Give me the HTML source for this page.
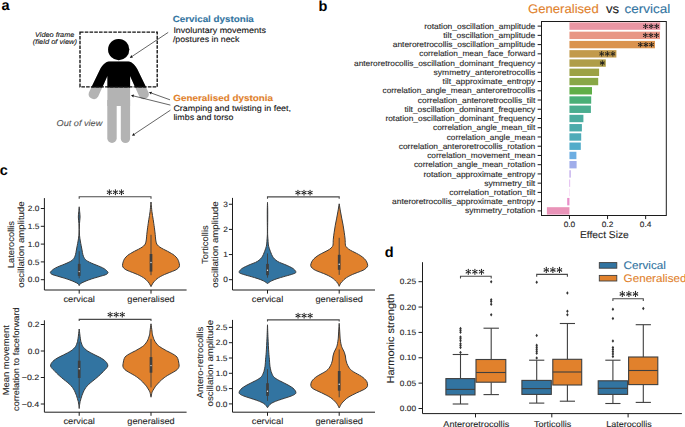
<!DOCTYPE html>
<html><head><meta charset="utf-8"><style>
html,body{margin:0;padding:0;background:#fff;}
svg{display:block;}
text{font-family:"Liberation Sans", sans-serif;text-rendering:geometricPrecision;}
</style></head><body>
<svg width="685" height="427" viewBox="0 0 685 427">
<rect x="0" y="0" width="685" height="427" fill="#fff"/>
<text x="1.6" y="10.4" font-size="14.5" font-weight="bold" fill="#000">a</text>
<text x="318.6" y="10.6" font-size="14.5" font-weight="bold" fill="#000">b</text>
<text x="-0.3" y="175.2" font-size="14.5" font-weight="bold" fill="#000">c</text>
<text x="384.8" y="257.1" font-size="14.5" font-weight="bold" fill="#000">d</text>
<defs><clipPath id="above"><rect x="0" y="0" width="300" height="87.5"/></clipPath></defs>
<g><circle cx="118.7" cy="49.6" r="10.6" fill="#b3b3b3"/><path d="M109 61.4H128.5C132 61.4 136 66.2 137.26 68.9L148.6 92.4A5.15 5.15 0 0 1 139.3 96.6L130.1 76.1V106H107.4V76.1L98.2 96.6A5.15 5.15 0 0 1 88.9 92.4L100.24 68.9C101.5 66.2 105.5 61.4 109 61.4Z" fill="#b3b3b3"/><path d="M107.3 100V138.3A4.7 4.7 0 0 0 116.7 138.3V100Z" fill="#b3b3b3"/><path d="M120.8 100V138.4A4.65 4.65 0 0 0 130.1 138.4V100Z" fill="#b3b3b3"/></g>
<g clip-path="url(#above)"><circle cx="118.7" cy="49.6" r="10.6" fill="#000"/><path d="M109 61.4H128.5C132 61.4 136 66.2 137.26 68.9L148.6 92.4A5.15 5.15 0 0 1 139.3 96.6L130.1 76.1V106H107.4V76.1L98.2 96.6A5.15 5.15 0 0 1 88.9 92.4L100.24 68.9C101.5 66.2 105.5 61.4 109 61.4Z" fill="#000"/><path d="M107.3 100V138.3A4.7 4.7 0 0 0 116.7 138.3V100Z" fill="#000"/><path d="M120.8 100V138.4A4.65 4.65 0 0 0 130.1 138.4V100Z" fill="#000"/></g>
<rect x="80" y="32.1" width="77.2" height="54.8" fill="none" stroke="#111" stroke-width="1.35" stroke-dasharray="3.6 1.15"/>
<text x="35.00" y="36.70" font-size="6.84" textLength="39.39" lengthAdjust="spacingAndGlyphs" font-style="italic" fill="#111" stroke="#111" stroke-width="0.1">Video frame</text>
<text x="32.80" y="44.30" font-size="6.84" textLength="44.22" lengthAdjust="spacingAndGlyphs" font-style="italic" fill="#111" stroke="#111" stroke-width="0.1">(field of view)</text>
<text x="56.60" y="125.60" font-size="8.48" textLength="45.72" lengthAdjust="spacingAndGlyphs" font-style="italic" fill="#555" stroke="#555" stroke-width="0.1">Out of view</text>
<text x="172.70" y="22.40" font-size="8.85" textLength="81.13" lengthAdjust="spacingAndGlyphs" font-weight="bold" fill="#3274a1" stroke="#3274a1" stroke-width="0.1">Cervical dystonia</text>
<text x="173.40" y="32.70" font-size="8.21" textLength="92.48" lengthAdjust="spacingAndGlyphs" fill="#111" stroke="#111" stroke-width="0.1">Involuntary movements</text>
<text x="172.90" y="41.90" font-size="8.21" textLength="66.50" lengthAdjust="spacingAndGlyphs" fill="#111" stroke="#111" stroke-width="0.1">/postures in neck</text>
<text x="173.30" y="100.50" font-size="8.85" textLength="99.68" lengthAdjust="spacingAndGlyphs" font-weight="bold" fill="#e1812c" stroke="#e1812c" stroke-width="0.1">Generalised dystonia</text>
<text x="173.40" y="110.80" font-size="8.21" textLength="117.66" lengthAdjust="spacingAndGlyphs" fill="#111" stroke="#111" stroke-width="0.1">Cramping and twisting in feet,</text>
<text x="173.40" y="120.00" font-size="8.21" textLength="60.07" lengthAdjust="spacingAndGlyphs" fill="#111" stroke="#111" stroke-width="0.1">limbs and torso</text>
<line x1="168.20" y1="32.40" x2="132.13" y2="56.35" stroke="#111" stroke-width="0.65" />
<path d="M129.80 57.90L131.30 55.10L132.96 57.60Z" fill="#111"/>
<line x1="170.00" y1="99.80" x2="151.53" y2="93.15" stroke="#111" stroke-width="0.65" />
<path d="M148.90 92.20L152.04 91.74L151.03 94.56Z" fill="#111"/>
<line x1="170.40" y1="105.10" x2="133.72" y2="95.98" stroke="#111" stroke-width="0.65" />
<path d="M131.00 95.30L134.08 94.52L133.36 97.43Z" fill="#111"/>
<line x1="170.40" y1="110.20" x2="134.33" y2="134.15" stroke="#111" stroke-width="0.65" />
<path d="M132.00 135.70L133.50 132.90L135.16 135.40Z" fill="#111"/>
<rect x="569.45" y="22.42" width="90.75" height="7.39" fill="#ea96a3" />
<line x1="537.60" y1="26.12" x2="541.50" y2="26.12" stroke="#1c1c1c" stroke-width="1.0" />
<text x="535.30" y="28.72" font-size="7.84" textLength="111.14" lengthAdjust="spacingAndGlyphs" text-anchor="end" fill="#262626" stroke="#262626" stroke-width="0.1">rotation_oscillation_amplitude</text>
<rect x="569.45" y="31.66" width="90.55" height="7.39" fill="#e89685" />
<line x1="537.60" y1="35.36" x2="541.50" y2="35.36" stroke="#1c1c1c" stroke-width="1.0" />
<text x="535.30" y="37.96" font-size="7.84" textLength="92.04" lengthAdjust="spacingAndGlyphs" text-anchor="end" fill="#262626" stroke="#262626" stroke-width="0.1">tilt_oscillation_amplitude</text>
<rect x="569.45" y="40.90" width="85.55" height="7.39" fill="#da934e" />
<line x1="537.60" y1="44.60" x2="541.50" y2="44.60" stroke="#1c1c1c" stroke-width="1.0" />
<text x="535.30" y="47.20" font-size="7.84" textLength="142.57" lengthAdjust="spacingAndGlyphs" text-anchor="end" fill="#262626" stroke="#262626" stroke-width="0.1">anteroretrocollis_oscillation_amplitude</text>
<rect x="569.45" y="50.14" width="46.95" height="7.39" fill="#c29a4b" />
<line x1="537.60" y1="53.83" x2="541.50" y2="53.83" stroke="#1c1c1c" stroke-width="1.0" />
<text x="535.30" y="56.43" font-size="7.84" textLength="115.93" lengthAdjust="spacingAndGlyphs" text-anchor="end" fill="#262626" stroke="#262626" stroke-width="0.1">correlation_mean_face_forward</text>
<rect x="569.45" y="59.38" width="36.35" height="7.39" fill="#af9d48" />
<line x1="537.60" y1="63.07" x2="541.50" y2="63.07" stroke="#1c1c1c" stroke-width="1.0" />
<text x="535.30" y="65.67" font-size="7.84" textLength="181.30" lengthAdjust="spacingAndGlyphs" text-anchor="end" fill="#262626" stroke="#262626" stroke-width="0.1">anteroretrocollis_oscillation_dominant_frequency</text>
<rect x="569.45" y="68.61" width="29.65" height="7.39" fill="#9ca145" />
<line x1="537.60" y1="72.31" x2="541.50" y2="72.31" stroke="#1c1c1c" stroke-width="1.0" />
<text x="535.30" y="74.91" font-size="7.84" textLength="101.67" lengthAdjust="spacingAndGlyphs" text-anchor="end" fill="#262626" stroke="#262626" stroke-width="0.1">symmetry_anteroretrocollis</text>
<rect x="569.45" y="77.85" width="28.75" height="7.39" fill="#88a746" />
<line x1="537.60" y1="81.55" x2="541.50" y2="81.55" stroke="#1c1c1c" stroke-width="1.0" />
<text x="535.30" y="84.15" font-size="7.84" textLength="92.68" lengthAdjust="spacingAndGlyphs" text-anchor="end" fill="#262626" stroke="#262626" stroke-width="0.1">tilt_approximate_entropy</text>
<rect x="569.45" y="87.09" width="22.55" height="7.39" fill="#60ae47" />
<line x1="537.60" y1="90.79" x2="541.50" y2="90.79" stroke="#1c1c1c" stroke-width="1.0" />
<text x="535.30" y="93.39" font-size="7.84" textLength="152.77" lengthAdjust="spacingAndGlyphs" text-anchor="end" fill="#262626" stroke="#262626" stroke-width="0.1">correlation_angle_mean_anteroretrocollis</text>
<rect x="569.45" y="96.33" width="21.75" height="7.39" fill="#49af77" />
<line x1="537.60" y1="100.02" x2="541.50" y2="100.02" stroke="#1c1c1c" stroke-width="1.0" />
<text x="535.30" y="102.62" font-size="7.84" textLength="117.47" lengthAdjust="spacingAndGlyphs" text-anchor="end" fill="#262626" stroke="#262626" stroke-width="0.1">correlation_anteroretrocollis_tilt</text>
<rect x="569.45" y="105.57" width="21.45" height="7.39" fill="#4aad8f" />
<line x1="537.60" y1="109.26" x2="541.50" y2="109.26" stroke="#1c1c1c" stroke-width="1.0" />
<text x="535.30" y="111.86" font-size="7.84" textLength="130.77" lengthAdjust="spacingAndGlyphs" text-anchor="end" fill="#262626" stroke="#262626" stroke-width="0.1">tilt_oscillation_dominant_frequency</text>
<rect x="569.45" y="114.80" width="13.95" height="7.39" fill="#4bac9e" />
<line x1="537.60" y1="118.50" x2="541.50" y2="118.50" stroke="#1c1c1c" stroke-width="1.0" />
<text x="535.30" y="121.10" font-size="7.84" textLength="149.87" lengthAdjust="spacingAndGlyphs" text-anchor="end" fill="#262626" stroke="#262626" stroke-width="0.1">rotation_oscillation_dominant_frequency</text>
<rect x="569.45" y="124.04" width="12.45" height="7.39" fill="#4babaa" />
<line x1="537.60" y1="127.74" x2="541.50" y2="127.74" stroke="#1c1c1c" stroke-width="1.0" />
<text x="535.30" y="130.34" font-size="7.84" textLength="102.24" lengthAdjust="spacingAndGlyphs" text-anchor="end" fill="#262626" stroke="#262626" stroke-width="0.1">correlation_angle_mean_tilt</text>
<rect x="569.45" y="133.28" width="11.75" height="7.39" fill="#4eabb8" />
<line x1="537.60" y1="136.98" x2="541.50" y2="136.98" stroke="#1c1c1c" stroke-width="1.0" />
<text x="535.30" y="139.58" font-size="7.84" textLength="88.62" lengthAdjust="spacingAndGlyphs" text-anchor="end" fill="#262626" stroke="#262626" stroke-width="0.1">correlation_angle_mean</text>
<rect x="569.45" y="142.52" width="11.35" height="7.39" fill="#52acca" />
<line x1="537.60" y1="146.21" x2="541.50" y2="146.21" stroke="#1c1c1c" stroke-width="1.0" />
<text x="535.30" y="148.81" font-size="7.84" textLength="136.57" lengthAdjust="spacingAndGlyphs" text-anchor="end" fill="#262626" stroke="#262626" stroke-width="0.1">correlation_anteroretrocollis_rotation</text>
<rect x="569.45" y="151.76" width="6.95" height="7.39" fill="#6daee2" />
<line x1="537.60" y1="155.45" x2="541.50" y2="155.45" stroke="#1c1c1c" stroke-width="1.0" />
<text x="535.30" y="158.05" font-size="7.84" textLength="108.11" lengthAdjust="spacingAndGlyphs" text-anchor="end" fill="#262626" stroke="#262626" stroke-width="0.1">correlation_movement_mean</text>
<rect x="569.45" y="161.00" width="7.15" height="7.39" fill="#a0adea" />
<line x1="537.60" y1="164.69" x2="541.50" y2="164.69" stroke="#1c1c1c" stroke-width="1.0" />
<text x="535.30" y="167.29" font-size="7.84" textLength="121.34" lengthAdjust="spacingAndGlyphs" text-anchor="end" fill="#262626" stroke="#262626" stroke-width="0.1">correlation_angle_mean_rotation</text>
<rect x="569.45" y="170.23" width="1.25" height="7.39" fill="#bca5ea" />
<line x1="537.60" y1="173.93" x2="541.50" y2="173.93" stroke="#1c1c1c" stroke-width="1.0" />
<text x="535.30" y="176.53" font-size="7.84" textLength="111.79" lengthAdjust="spacingAndGlyphs" text-anchor="end" fill="#262626" stroke="#262626" stroke-width="0.1">rotation_approximate_entropy</text>
<rect x="569.45" y="179.47" width="0.65" height="7.39" fill="#d398e8" />
<line x1="537.60" y1="183.17" x2="541.50" y2="183.17" stroke="#1c1c1c" stroke-width="1.0" />
<text x="535.30" y="185.77" font-size="7.84" textLength="51.14" lengthAdjust="spacingAndGlyphs" text-anchor="end" fill="#262626" stroke="#262626" stroke-width="0.1">symmetry_tilt</text>
<rect x="569.45" y="188.71" width="0.25" height="7.39" fill="#e78ae0" />
<line x1="537.60" y1="192.40" x2="541.50" y2="192.40" stroke="#1c1c1c" stroke-width="1.0" />
<text x="535.30" y="195.00" font-size="7.84" textLength="86.04" lengthAdjust="spacingAndGlyphs" text-anchor="end" fill="#262626" stroke="#262626" stroke-width="0.1">correlation_rotation_tilt</text>
<rect x="567.20" y="197.95" width="2.25" height="7.39" fill="#e88fca" />
<line x1="537.60" y1="201.64" x2="541.50" y2="201.64" stroke="#1c1c1c" stroke-width="1.0" />
<text x="535.30" y="204.24" font-size="7.84" textLength="143.22" lengthAdjust="spacingAndGlyphs" text-anchor="end" fill="#262626" stroke="#262626" stroke-width="0.1">anteroretrocollis_approximate_entropy</text>
<rect x="546.90" y="207.19" width="22.55" height="7.39" fill="#e993b8" />
<line x1="537.60" y1="210.88" x2="541.50" y2="210.88" stroke="#1c1c1c" stroke-width="1.0" />
<text x="535.30" y="213.48" font-size="7.84" textLength="70.25" lengthAdjust="spacingAndGlyphs" text-anchor="end" fill="#262626" stroke="#262626" stroke-width="0.1">symmetry_rotation</text>
<path d="M656.88 26.30L657.25 24.15A0.55 0.55 0 0 0 656.15 24.15L656.52 26.30ZM656.52 26.30L656.15 28.45A0.55 0.55 0 0 0 657.25 28.45L656.88 26.30ZM656.79 26.46L658.84 25.70A0.55 0.55 0 0 0 658.29 24.75L656.61 26.14ZM656.79 26.14L655.11 24.75A0.55 0.55 0 0 0 654.56 25.70L656.61 26.46ZM656.61 26.14L654.56 26.90A0.55 0.55 0 0 0 655.11 27.85L656.79 26.46ZM656.61 26.46L658.29 27.85A0.55 0.55 0 0 0 658.84 26.90L656.79 26.14Z" fill="#1a1a1a"/>
<circle cx="656.70" cy="26.30" r="0.55" fill="#1a1a1a"/>
<path d="M651.28 26.30L651.65 24.15A0.55 0.55 0 0 0 650.55 24.15L650.92 26.30ZM650.92 26.30L650.55 28.45A0.55 0.55 0 0 0 651.65 28.45L651.28 26.30ZM651.19 26.46L653.24 25.70A0.55 0.55 0 0 0 652.69 24.75L651.01 26.14ZM651.19 26.14L649.51 24.75A0.55 0.55 0 0 0 648.96 25.70L651.01 26.46ZM651.01 26.14L648.96 26.90A0.55 0.55 0 0 0 649.51 27.85L651.19 26.46ZM651.01 26.46L652.69 27.85A0.55 0.55 0 0 0 653.24 26.90L651.19 26.14Z" fill="#1a1a1a"/>
<circle cx="651.10" cy="26.30" r="0.55" fill="#1a1a1a"/>
<path d="M645.68 26.30L646.05 24.15A0.55 0.55 0 0 0 644.95 24.15L645.32 26.30ZM645.32 26.30L644.95 28.45A0.55 0.55 0 0 0 646.05 28.45L645.68 26.30ZM645.59 26.46L647.64 25.70A0.55 0.55 0 0 0 647.09 24.75L645.41 26.14ZM645.59 26.14L643.91 24.75A0.55 0.55 0 0 0 643.36 25.70L645.41 26.46ZM645.41 26.14L643.36 26.90A0.55 0.55 0 0 0 643.91 27.85L645.59 26.46ZM645.41 26.46L647.09 27.85A0.55 0.55 0 0 0 647.64 26.90L645.59 26.14Z" fill="#1a1a1a"/>
<circle cx="645.50" cy="26.30" r="0.55" fill="#1a1a1a"/>
<path d="M656.68 35.30L657.05 33.15A0.55 0.55 0 0 0 655.95 33.15L656.32 35.30ZM656.32 35.30L655.95 37.45A0.55 0.55 0 0 0 657.05 37.45L656.68 35.30ZM656.59 35.46L658.64 34.70A0.55 0.55 0 0 0 658.09 33.75L656.41 35.14ZM656.59 35.14L654.91 33.75A0.55 0.55 0 0 0 654.36 34.70L656.41 35.46ZM656.41 35.14L654.36 35.90A0.55 0.55 0 0 0 654.91 36.85L656.59 35.46ZM656.41 35.46L658.09 36.85A0.55 0.55 0 0 0 658.64 35.90L656.59 35.14Z" fill="#1a1a1a"/>
<circle cx="656.50" cy="35.30" r="0.55" fill="#1a1a1a"/>
<path d="M651.08 35.30L651.45 33.15A0.55 0.55 0 0 0 650.35 33.15L650.72 35.30ZM650.72 35.30L650.35 37.45A0.55 0.55 0 0 0 651.45 37.45L651.08 35.30ZM650.99 35.46L653.04 34.70A0.55 0.55 0 0 0 652.49 33.75L650.81 35.14ZM650.99 35.14L649.31 33.75A0.55 0.55 0 0 0 648.76 34.70L650.81 35.46ZM650.81 35.14L648.76 35.90A0.55 0.55 0 0 0 649.31 36.85L650.99 35.46ZM650.81 35.46L652.49 36.85A0.55 0.55 0 0 0 653.04 35.90L650.99 35.14Z" fill="#1a1a1a"/>
<circle cx="650.90" cy="35.30" r="0.55" fill="#1a1a1a"/>
<path d="M645.48 35.30L645.85 33.15A0.55 0.55 0 0 0 644.75 33.15L645.12 35.30ZM645.12 35.30L644.75 37.45A0.55 0.55 0 0 0 645.85 37.45L645.48 35.30ZM645.39 35.46L647.44 34.70A0.55 0.55 0 0 0 646.89 33.75L645.21 35.14ZM645.39 35.14L643.71 33.75A0.55 0.55 0 0 0 643.16 34.70L645.21 35.46ZM645.21 35.14L643.16 35.90A0.55 0.55 0 0 0 643.71 36.85L645.39 35.46ZM645.21 35.46L646.89 36.85A0.55 0.55 0 0 0 647.44 35.90L645.39 35.14Z" fill="#1a1a1a"/>
<circle cx="645.30" cy="35.30" r="0.55" fill="#1a1a1a"/>
<path d="M651.68 44.60L652.05 42.45A0.55 0.55 0 0 0 650.95 42.45L651.32 44.60ZM651.32 44.60L650.95 46.75A0.55 0.55 0 0 0 652.05 46.75L651.68 44.60ZM651.59 44.76L653.64 44.00A0.55 0.55 0 0 0 653.09 43.05L651.41 44.44ZM651.59 44.44L649.91 43.05A0.55 0.55 0 0 0 649.36 44.00L651.41 44.76ZM651.41 44.44L649.36 45.20A0.55 0.55 0 0 0 649.91 46.15L651.59 44.76ZM651.41 44.76L653.09 46.15A0.55 0.55 0 0 0 653.64 45.20L651.59 44.44Z" fill="#1a1a1a"/>
<circle cx="651.50" cy="44.60" r="0.55" fill="#1a1a1a"/>
<path d="M646.08 44.60L646.45 42.45A0.55 0.55 0 0 0 645.35 42.45L645.72 44.60ZM645.72 44.60L645.35 46.75A0.55 0.55 0 0 0 646.45 46.75L646.08 44.60ZM645.99 44.76L648.04 44.00A0.55 0.55 0 0 0 647.49 43.05L645.81 44.44ZM645.99 44.44L644.31 43.05A0.55 0.55 0 0 0 643.76 44.00L645.81 44.76ZM645.81 44.44L643.76 45.20A0.55 0.55 0 0 0 644.31 46.15L645.99 44.76ZM645.81 44.76L647.49 46.15A0.55 0.55 0 0 0 648.04 45.20L645.99 44.44Z" fill="#1a1a1a"/>
<circle cx="645.90" cy="44.60" r="0.55" fill="#1a1a1a"/>
<path d="M640.48 44.60L640.85 42.45A0.55 0.55 0 0 0 639.75 42.45L640.12 44.60ZM640.12 44.60L639.75 46.75A0.55 0.55 0 0 0 640.85 46.75L640.48 44.60ZM640.39 44.76L642.44 44.00A0.55 0.55 0 0 0 641.89 43.05L640.21 44.44ZM640.39 44.44L638.71 43.05A0.55 0.55 0 0 0 638.16 44.00L640.21 44.76ZM640.21 44.44L638.16 45.20A0.55 0.55 0 0 0 638.71 46.15L640.39 44.76ZM640.21 44.76L641.89 46.15A0.55 0.55 0 0 0 642.44 45.20L640.39 44.44Z" fill="#1a1a1a"/>
<circle cx="640.30" cy="44.60" r="0.55" fill="#1a1a1a"/>
<path d="M613.08 53.80L613.45 51.65A0.55 0.55 0 0 0 612.35 51.65L612.72 53.80ZM612.72 53.80L612.35 55.95A0.55 0.55 0 0 0 613.45 55.95L613.08 53.80ZM612.99 53.96L615.04 53.20A0.55 0.55 0 0 0 614.49 52.25L612.81 53.64ZM612.99 53.64L611.31 52.25A0.55 0.55 0 0 0 610.76 53.20L612.81 53.96ZM612.81 53.64L610.76 54.40A0.55 0.55 0 0 0 611.31 55.35L612.99 53.96ZM612.81 53.96L614.49 55.35A0.55 0.55 0 0 0 615.04 54.40L612.99 53.64Z" fill="#1a1a1a"/>
<circle cx="612.90" cy="53.80" r="0.55" fill="#1a1a1a"/>
<path d="M607.48 53.80L607.85 51.65A0.55 0.55 0 0 0 606.75 51.65L607.12 53.80ZM607.12 53.80L606.75 55.95A0.55 0.55 0 0 0 607.85 55.95L607.48 53.80ZM607.39 53.96L609.44 53.20A0.55 0.55 0 0 0 608.89 52.25L607.21 53.64ZM607.39 53.64L605.71 52.25A0.55 0.55 0 0 0 605.16 53.20L607.21 53.96ZM607.21 53.64L605.16 54.40A0.55 0.55 0 0 0 605.71 55.35L607.39 53.96ZM607.21 53.96L608.89 55.35A0.55 0.55 0 0 0 609.44 54.40L607.39 53.64Z" fill="#1a1a1a"/>
<circle cx="607.30" cy="53.80" r="0.55" fill="#1a1a1a"/>
<path d="M601.88 53.80L602.25 51.65A0.55 0.55 0 0 0 601.15 51.65L601.52 53.80ZM601.52 53.80L601.15 55.95A0.55 0.55 0 0 0 602.25 55.95L601.88 53.80ZM601.79 53.96L603.84 53.20A0.55 0.55 0 0 0 603.29 52.25L601.61 53.64ZM601.79 53.64L600.11 52.25A0.55 0.55 0 0 0 599.56 53.20L601.61 53.96ZM601.61 53.64L599.56 54.40A0.55 0.55 0 0 0 600.11 55.35L601.79 53.96ZM601.61 53.96L603.29 55.35A0.55 0.55 0 0 0 603.84 54.40L601.79 53.64Z" fill="#1a1a1a"/>
<circle cx="601.70" cy="53.80" r="0.55" fill="#1a1a1a"/>
<path d="M602.48 63.00L602.85 60.85A0.55 0.55 0 0 0 601.75 60.85L602.12 63.00ZM602.12 63.00L601.75 65.15A0.55 0.55 0 0 0 602.85 65.15L602.48 63.00ZM602.39 63.16L604.44 62.40A0.55 0.55 0 0 0 603.89 61.45L602.21 62.84ZM602.39 62.84L600.71 61.45A0.55 0.55 0 0 0 600.16 62.40L602.21 63.16ZM602.21 62.84L600.16 63.60A0.55 0.55 0 0 0 600.71 64.55L602.39 63.16ZM602.21 63.16L603.89 64.55A0.55 0.55 0 0 0 604.44 63.60L602.39 62.84Z" fill="#1a1a1a"/>
<circle cx="602.30" cy="63.00" r="0.55" fill="#1a1a1a"/>
<rect x="541.5" y="21.5" width="124.80" height="194.00" fill="none" stroke="#1c1c1c" stroke-width="1.0"/>
<line x1="569.45" y1="215.50" x2="569.45" y2="219.10" stroke="#1c1c1c" stroke-width="1.0" />
<text x="569.45" y="226.80" font-size="7.74" textLength="11.61" lengthAdjust="spacingAndGlyphs" text-anchor="middle" fill="#262626" stroke="#262626" stroke-width="0.1">0.0</text>
<line x1="607.55" y1="215.50" x2="607.55" y2="219.10" stroke="#1c1c1c" stroke-width="1.0" />
<text x="607.55" y="226.80" font-size="7.74" textLength="11.61" lengthAdjust="spacingAndGlyphs" text-anchor="middle" fill="#262626" stroke="#262626" stroke-width="0.1">0.2</text>
<line x1="645.65" y1="215.50" x2="645.65" y2="219.10" stroke="#1c1c1c" stroke-width="1.0" />
<text x="645.65" y="226.80" font-size="7.74" textLength="11.61" lengthAdjust="spacingAndGlyphs" text-anchor="middle" fill="#262626" stroke="#262626" stroke-width="0.1">0.4</text>
<text x="604.40" y="237.90" font-size="9.86" textLength="48.81" lengthAdjust="spacingAndGlyphs" text-anchor="middle" fill="#262626" stroke="#262626" stroke-width="0.1">Effect Size</text>
<text x="528.00" y="13.40" font-size="12.51" textLength="70.68" lengthAdjust="spacingAndGlyphs" fill="#e1812c" stroke="#e1812c" stroke-width="0.1">Generalised</text>
<text x="605.90" y="13.40" font-size="12.51" textLength="13.13" lengthAdjust="spacingAndGlyphs" fill="#1a1a1a" stroke="#1a1a1a" stroke-width="0.1">vs</text>
<text x="624.40" y="13.40" font-size="12.51" textLength="45.86" lengthAdjust="spacingAndGlyphs" fill="#3274a1" stroke="#3274a1" stroke-width="0.1">cervical</text>
<path d="M44.40 198.10V290.00H186.60" fill="none" stroke="#1c1c1c" stroke-width="1.0"/>
<line x1="40.80" y1="279.70" x2="44.40" y2="279.70" stroke="#1c1c1c" stroke-width="1.0" />
<text x="39.30" y="282.35" font-size="7.69" textLength="11.53" lengthAdjust="spacingAndGlyphs" text-anchor="end" fill="#262626" stroke="#262626" stroke-width="0.1">0.0</text>
<line x1="40.80" y1="261.90" x2="44.40" y2="261.90" stroke="#1c1c1c" stroke-width="1.0" />
<text x="39.30" y="264.55" font-size="7.69" textLength="11.53" lengthAdjust="spacingAndGlyphs" text-anchor="end" fill="#262626" stroke="#262626" stroke-width="0.1">0.5</text>
<line x1="40.80" y1="244.10" x2="44.40" y2="244.10" stroke="#1c1c1c" stroke-width="1.0" />
<text x="39.30" y="246.75" font-size="7.69" textLength="11.53" lengthAdjust="spacingAndGlyphs" text-anchor="end" fill="#262626" stroke="#262626" stroke-width="0.1">1.0</text>
<line x1="40.80" y1="226.30" x2="44.40" y2="226.30" stroke="#1c1c1c" stroke-width="1.0" />
<text x="39.30" y="228.95" font-size="7.69" textLength="11.53" lengthAdjust="spacingAndGlyphs" text-anchor="end" fill="#262626" stroke="#262626" stroke-width="0.1">1.5</text>
<line x1="40.80" y1="208.50" x2="44.40" y2="208.50" stroke="#1c1c1c" stroke-width="1.0" />
<text x="39.30" y="211.15" font-size="7.69" textLength="11.53" lengthAdjust="spacingAndGlyphs" text-anchor="end" fill="#262626" stroke="#262626" stroke-width="0.1">2.0</text>
<line x1="79.20" y1="290.00" x2="79.20" y2="293.60" stroke="#1c1c1c" stroke-width="1.0" />
<line x1="151.00" y1="290.00" x2="151.00" y2="293.60" stroke="#1c1c1c" stroke-width="1.0" />
<text x="79.20" y="301.50" font-size="8.59" textLength="31.48" lengthAdjust="spacingAndGlyphs" text-anchor="middle" fill="#262626" stroke="#262626" stroke-width="0.1">cervical</text>
<text x="151.00" y="301.50" font-size="8.59" textLength="47.38" lengthAdjust="spacingAndGlyphs" text-anchor="middle" fill="#262626" stroke="#262626" stroke-width="0.1">generalised</text>
<text x="14.00" y="244.60" font-size="8.80" textLength="47.26" lengthAdjust="spacingAndGlyphs" text-anchor="middle" fill="#262626" stroke="#262626" stroke-width="0.1" transform="rotate(-90 14.00 244.60)">Laterocollis</text>
<text x="23.70" y="244.60" font-size="8.80" textLength="86.45" lengthAdjust="spacingAndGlyphs" text-anchor="middle" fill="#262626" stroke="#262626" stroke-width="0.1" transform="rotate(-90 23.70 244.60)">oscillation amplitude</text>
<path d="M232.50 197.90V290.00H375.00" fill="none" stroke="#1c1c1c" stroke-width="1.0"/>
<line x1="228.90" y1="279.70" x2="232.50" y2="279.70" stroke="#1c1c1c" stroke-width="1.0" />
<text x="227.80" y="282.35" font-size="7.69" textLength="4.61" lengthAdjust="spacingAndGlyphs" text-anchor="end" fill="#262626" stroke="#262626" stroke-width="0.1">0</text>
<line x1="228.90" y1="254.55" x2="232.50" y2="254.55" stroke="#1c1c1c" stroke-width="1.0" />
<text x="227.80" y="257.20" font-size="7.69" textLength="4.61" lengthAdjust="spacingAndGlyphs" text-anchor="end" fill="#262626" stroke="#262626" stroke-width="0.1">1</text>
<line x1="228.90" y1="229.40" x2="232.50" y2="229.40" stroke="#1c1c1c" stroke-width="1.0" />
<text x="227.80" y="232.05" font-size="7.69" textLength="4.61" lengthAdjust="spacingAndGlyphs" text-anchor="end" fill="#262626" stroke="#262626" stroke-width="0.1">2</text>
<line x1="228.90" y1="204.25" x2="232.50" y2="204.25" stroke="#1c1c1c" stroke-width="1.0" />
<text x="227.80" y="206.90" font-size="7.69" textLength="4.61" lengthAdjust="spacingAndGlyphs" text-anchor="end" fill="#262626" stroke="#262626" stroke-width="0.1">3</text>
<line x1="267.50" y1="290.00" x2="267.50" y2="293.60" stroke="#1c1c1c" stroke-width="1.0" />
<line x1="339.20" y1="290.00" x2="339.20" y2="293.60" stroke="#1c1c1c" stroke-width="1.0" />
<text x="267.50" y="301.50" font-size="8.59" textLength="31.48" lengthAdjust="spacingAndGlyphs" text-anchor="middle" fill="#262626" stroke="#262626" stroke-width="0.1">cervical</text>
<text x="339.20" y="301.50" font-size="8.59" textLength="47.38" lengthAdjust="spacingAndGlyphs" text-anchor="middle" fill="#262626" stroke="#262626" stroke-width="0.1">generalised</text>
<text x="208.30" y="244.60" font-size="8.80" textLength="38.59" lengthAdjust="spacingAndGlyphs" text-anchor="middle" fill="#262626" stroke="#262626" stroke-width="0.1" transform="rotate(-90 208.30 244.60)">Torticollis</text>
<text x="218.20" y="244.60" font-size="8.80" textLength="86.45" lengthAdjust="spacingAndGlyphs" text-anchor="middle" fill="#262626" stroke="#262626" stroke-width="0.1" transform="rotate(-90 218.20 244.60)">oscillation amplitude</text>
<path d="M44.40 320.30V412.20H186.60" fill="none" stroke="#1c1c1c" stroke-width="1.0"/>
<line x1="40.80" y1="404.00" x2="44.40" y2="404.00" stroke="#1c1c1c" stroke-width="1.0" />
<text x="39.30" y="406.65" font-size="7.69" textLength="17.60" lengthAdjust="spacingAndGlyphs" text-anchor="end" fill="#262626" stroke="#262626" stroke-width="0.1">−0.4</text>
<line x1="40.80" y1="377.50" x2="44.40" y2="377.50" stroke="#1c1c1c" stroke-width="1.0" />
<text x="39.30" y="380.15" font-size="7.69" textLength="17.60" lengthAdjust="spacingAndGlyphs" text-anchor="end" fill="#262626" stroke="#262626" stroke-width="0.1">−0.2</text>
<line x1="40.80" y1="351.00" x2="44.40" y2="351.00" stroke="#1c1c1c" stroke-width="1.0" />
<text x="39.30" y="353.65" font-size="7.69" textLength="11.53" lengthAdjust="spacingAndGlyphs" text-anchor="end" fill="#262626" stroke="#262626" stroke-width="0.1">0.0</text>
<line x1="40.80" y1="324.50" x2="44.40" y2="324.50" stroke="#1c1c1c" stroke-width="1.0" />
<text x="39.30" y="327.15" font-size="7.69" textLength="11.53" lengthAdjust="spacingAndGlyphs" text-anchor="end" fill="#262626" stroke="#262626" stroke-width="0.1">0.2</text>
<line x1="79.20" y1="412.20" x2="79.20" y2="415.80" stroke="#1c1c1c" stroke-width="1.0" />
<line x1="151.00" y1="412.20" x2="151.00" y2="415.80" stroke="#1c1c1c" stroke-width="1.0" />
<text x="79.20" y="423.50" font-size="8.59" textLength="31.48" lengthAdjust="spacingAndGlyphs" text-anchor="middle" fill="#262626" stroke="#262626" stroke-width="0.1">cervical</text>
<text x="151.00" y="423.50" font-size="8.59" textLength="47.38" lengthAdjust="spacingAndGlyphs" text-anchor="middle" fill="#262626" stroke="#262626" stroke-width="0.1">generalised</text>
<text x="9.50" y="360.30" font-size="8.80" textLength="70.14" lengthAdjust="spacingAndGlyphs" text-anchor="middle" fill="#262626" stroke="#262626" stroke-width="0.1" transform="rotate(-90 9.50 360.30)">Mean movement</text>
<text x="19.00" y="359.20" font-size="8.46" textLength="103.49" lengthAdjust="spacingAndGlyphs" text-anchor="middle" fill="#262626" stroke="#262626" stroke-width="0.1" transform="rotate(-90 19.00 359.20)">correlation to faceforward</text>
<path d="M232.50 319.90V412.20H375.00" fill="none" stroke="#1c1c1c" stroke-width="1.0"/>
<line x1="228.90" y1="403.90" x2="232.50" y2="403.90" stroke="#1c1c1c" stroke-width="1.0" />
<text x="227.30" y="406.55" font-size="7.69" textLength="11.53" lengthAdjust="spacingAndGlyphs" text-anchor="end" fill="#262626" stroke="#262626" stroke-width="0.1">0.0</text>
<line x1="228.90" y1="388.60" x2="232.50" y2="388.60" stroke="#1c1c1c" stroke-width="1.0" />
<text x="227.30" y="391.25" font-size="7.69" textLength="11.53" lengthAdjust="spacingAndGlyphs" text-anchor="end" fill="#262626" stroke="#262626" stroke-width="0.1">0.5</text>
<line x1="228.90" y1="373.30" x2="232.50" y2="373.30" stroke="#1c1c1c" stroke-width="1.0" />
<text x="227.30" y="375.95" font-size="7.69" textLength="11.53" lengthAdjust="spacingAndGlyphs" text-anchor="end" fill="#262626" stroke="#262626" stroke-width="0.1">1.0</text>
<line x1="228.90" y1="358.00" x2="232.50" y2="358.00" stroke="#1c1c1c" stroke-width="1.0" />
<text x="227.30" y="360.65" font-size="7.69" textLength="11.53" lengthAdjust="spacingAndGlyphs" text-anchor="end" fill="#262626" stroke="#262626" stroke-width="0.1">1.5</text>
<line x1="228.90" y1="342.70" x2="232.50" y2="342.70" stroke="#1c1c1c" stroke-width="1.0" />
<text x="227.30" y="345.35" font-size="7.69" textLength="11.53" lengthAdjust="spacingAndGlyphs" text-anchor="end" fill="#262626" stroke="#262626" stroke-width="0.1">2.0</text>
<line x1="228.90" y1="327.40" x2="232.50" y2="327.40" stroke="#1c1c1c" stroke-width="1.0" />
<text x="227.30" y="330.05" font-size="7.69" textLength="11.53" lengthAdjust="spacingAndGlyphs" text-anchor="end" fill="#262626" stroke="#262626" stroke-width="0.1">2.5</text>
<line x1="267.50" y1="412.20" x2="267.50" y2="415.80" stroke="#1c1c1c" stroke-width="1.0" />
<line x1="339.20" y1="412.20" x2="339.20" y2="415.80" stroke="#1c1c1c" stroke-width="1.0" />
<text x="267.50" y="423.50" font-size="8.59" textLength="31.48" lengthAdjust="spacingAndGlyphs" text-anchor="middle" fill="#262626" stroke="#262626" stroke-width="0.1">cervical</text>
<text x="339.20" y="423.50" font-size="8.59" textLength="47.38" lengthAdjust="spacingAndGlyphs" text-anchor="middle" fill="#262626" stroke="#262626" stroke-width="0.1">generalised</text>
<text x="203.30" y="362.50" font-size="8.80" textLength="71.54" lengthAdjust="spacingAndGlyphs" text-anchor="middle" fill="#262626" stroke="#262626" stroke-width="0.1" transform="rotate(-90 203.30 362.50)">Antero-retrocollis</text>
<text x="213.20" y="363.20" font-size="8.80" textLength="86.45" lengthAdjust="spacingAndGlyphs" text-anchor="middle" fill="#262626" stroke="#262626" stroke-width="0.1" transform="rotate(-90 213.20 363.20)">oscillation amplitude</text>
<path d="M79.20 206.80C79.28 207.62 79.51 210.00 79.65 211.70C79.79 213.40 80.08 215.05 80.05 217.00C80.02 218.95 79.62 221.35 79.50 223.40C79.38 225.45 79.30 227.33 79.30 229.30C79.30 231.27 79.33 233.25 79.50 235.20C79.67 237.15 80.02 239.25 80.30 241.00C80.58 242.75 80.92 244.20 81.20 245.70C81.48 247.20 81.72 248.50 82.00 250.00C82.28 251.50 82.57 253.45 82.90 254.70C83.23 255.95 83.60 256.72 84.00 257.50C84.40 258.28 84.70 258.78 85.30 259.40C85.90 260.02 86.58 260.58 87.60 261.20C88.62 261.82 90.00 262.47 91.40 263.10C92.80 263.73 94.45 264.37 96.00 265.00C97.55 265.63 99.33 266.28 100.70 266.90C102.07 267.52 103.22 268.08 104.20 268.70C105.18 269.32 105.97 269.97 106.60 270.60C107.23 271.23 108.05 271.87 108.00 272.50C107.95 273.13 107.52 273.78 106.30 274.40C105.08 275.02 102.72 275.58 100.70 276.20C98.68 276.82 96.23 277.47 94.20 278.10C92.17 278.73 90.22 279.37 88.50 280.00C86.78 280.63 85.25 281.28 83.90 281.90C82.55 282.52 81.18 283.08 80.40 283.70C79.62 284.32 79.40 285.28 79.20 285.60C79.00 285.28 78.78 284.32 78.00 283.70C77.22 283.08 75.85 282.52 74.50 281.90C73.15 281.28 71.62 280.63 69.90 280.00C68.18 279.37 66.23 278.73 64.20 278.10C62.17 277.47 59.72 276.82 57.70 276.20C55.68 275.58 53.32 275.02 52.10 274.40C50.88 273.78 50.45 273.13 50.40 272.50C50.35 271.87 51.17 271.23 51.80 270.60C52.43 269.97 53.22 269.32 54.20 268.70C55.18 268.08 56.33 267.52 57.70 266.90C59.07 266.28 60.85 265.63 62.40 265.00C63.95 264.37 65.60 263.73 67.00 263.10C68.40 262.47 69.78 261.82 70.80 261.20C71.82 260.58 72.50 260.02 73.10 259.40C73.70 258.78 74.00 258.28 74.40 257.50C74.80 256.72 75.17 255.95 75.50 254.70C75.83 253.45 76.12 251.50 76.40 250.00C76.68 248.50 76.92 247.20 77.20 245.70C77.48 244.20 77.82 242.75 78.10 241.00C78.38 239.25 78.73 237.15 78.90 235.20C79.07 233.25 79.10 231.27 79.10 229.30C79.10 227.33 79.03 225.45 78.90 223.40C78.78 221.35 78.38 218.95 78.35 217.00C78.33 215.05 78.61 213.40 78.75 211.70C78.89 210.00 79.12 207.62 79.20 206.80Z" fill="#3274a1" stroke="#3a3a3a" stroke-width="1.0" stroke-linejoin="round"/>
<line x1="79.20" y1="251.20" x2="79.20" y2="278.30" stroke="#3f3f3f" stroke-width="0.9" />
<rect x="77.85" y="263.90" width="2.70" height="12.00" fill="#3f3f3f" />
<circle cx="79.20" cy="271.60" r="0.7" fill="#f4f4f4"/>
<path d="M151.00 202.00C151.08 202.88 151.35 205.73 151.50 207.30C151.65 208.87 151.73 210.03 151.90 211.40C152.07 212.77 152.28 214.13 152.50 215.50C152.72 216.87 152.98 218.23 153.20 219.60C153.42 220.97 153.60 222.33 153.80 223.70C154.00 225.07 154.17 226.02 154.40 227.80C154.63 229.58 155.00 232.53 155.20 234.40C155.40 236.27 155.42 237.60 155.60 239.00C155.78 240.40 156.00 241.80 156.30 242.80C156.60 243.80 156.82 244.28 157.40 245.00C157.98 245.72 158.80 246.40 159.80 247.10C160.80 247.80 162.10 248.50 163.40 249.20C164.70 249.90 166.28 250.60 167.60 251.30C168.92 252.00 170.15 252.70 171.30 253.40C172.45 254.10 173.48 254.62 174.50 255.50C175.52 256.38 176.68 257.63 177.40 258.70C178.12 259.77 178.45 260.75 178.80 261.90C179.15 263.05 179.60 264.55 179.50 265.60C179.40 266.65 178.95 267.42 178.20 268.20C177.45 268.98 176.42 269.60 175.00 270.30C173.58 271.00 171.45 271.70 169.70 272.40C167.95 273.10 166.07 273.80 164.50 274.50C162.93 275.20 161.53 275.90 160.30 276.60C159.07 277.30 158.00 278.00 157.10 278.70C156.20 279.40 155.58 280.08 154.90 280.80C154.22 281.52 153.65 282.03 153.00 283.00C152.35 283.97 151.33 286.00 151.00 286.60C150.67 286.00 149.65 283.97 149.00 283.00C148.35 282.03 147.78 281.52 147.10 280.80C146.42 280.08 145.80 279.40 144.90 278.70C144.00 278.00 142.93 277.30 141.70 276.60C140.47 275.90 139.07 275.20 137.50 274.50C135.93 273.80 134.05 273.10 132.30 272.40C130.55 271.70 128.42 271.00 127.00 270.30C125.58 269.60 124.55 268.98 123.80 268.20C123.05 267.42 122.60 266.65 122.50 265.60C122.40 264.55 122.85 263.05 123.20 261.90C123.55 260.75 123.88 259.77 124.60 258.70C125.32 257.63 126.48 256.38 127.50 255.50C128.52 254.62 129.55 254.10 130.70 253.40C131.85 252.70 133.08 252.00 134.40 251.30C135.72 250.60 137.30 249.90 138.60 249.20C139.90 248.50 141.20 247.80 142.20 247.10C143.20 246.40 144.02 245.72 144.60 245.00C145.18 244.28 145.40 243.80 145.70 242.80C146.00 241.80 146.22 240.40 146.40 239.00C146.58 237.60 146.60 236.27 146.80 234.40C147.00 232.53 147.37 229.58 147.60 227.80C147.83 226.02 148.00 225.07 148.20 223.70C148.40 222.33 148.58 220.97 148.80 219.60C149.02 218.23 149.28 216.87 149.50 215.50C149.72 214.13 149.93 212.77 150.10 211.40C150.27 210.03 150.35 208.87 150.50 207.30C150.65 205.73 150.92 202.88 151.00 202.00Z" fill="#e1812c" stroke="#3a3a3a" stroke-width="1.0" stroke-linejoin="round"/>
<line x1="151.00" y1="234.80" x2="151.00" y2="275.20" stroke="#3f3f3f" stroke-width="0.9" />
<rect x="149.65" y="254.00" width="2.70" height="17.60" fill="#3f3f3f" />
<circle cx="151.00" cy="262.50" r="0.7" fill="#f4f4f4"/>
<path d="M267.50 202.40C267.53 203.67 267.67 207.07 267.70 210.00C267.73 212.93 267.72 216.67 267.70 220.00C267.68 223.33 267.60 227.33 267.60 230.00C267.60 232.67 267.63 234.33 267.70 236.00C267.77 237.67 267.92 238.83 268.00 240.00C268.08 241.17 268.13 242.17 268.20 243.00C268.27 243.83 268.23 244.13 268.40 245.00C268.57 245.87 268.88 247.15 269.20 248.20C269.52 249.25 269.90 250.25 270.30 251.30C270.70 252.35 271.08 253.43 271.60 254.50C272.12 255.57 272.67 256.73 273.40 257.70C274.13 258.67 274.98 259.52 276.00 260.30C277.02 261.08 278.03 261.70 279.50 262.40C280.97 263.10 283.13 263.80 284.80 264.50C286.47 265.20 288.08 265.90 289.50 266.60C290.92 267.30 292.27 267.90 293.30 268.70C294.33 269.50 295.35 270.70 295.70 271.40C296.05 272.10 296.13 272.38 295.40 272.90C294.67 273.42 293.22 273.88 291.30 274.50C289.38 275.12 286.28 275.90 283.90 276.60C281.52 277.30 279.03 278.00 277.00 278.70C274.97 279.40 273.28 280.00 271.70 280.80C270.12 281.60 268.20 283.05 267.50 283.50C266.80 283.05 264.88 281.60 263.30 280.80C261.72 280.00 260.03 279.40 258.00 278.70C255.97 278.00 253.48 277.30 251.10 276.60C248.72 275.90 245.62 275.12 243.70 274.50C241.78 273.88 240.33 273.42 239.60 272.90C238.87 272.38 238.95 272.10 239.30 271.40C239.65 270.70 240.67 269.50 241.70 268.70C242.73 267.90 244.08 267.30 245.50 266.60C246.92 265.90 248.53 265.20 250.20 264.50C251.87 263.80 254.03 263.10 255.50 262.40C256.97 261.70 257.98 261.08 259.00 260.30C260.02 259.52 260.87 258.67 261.60 257.70C262.33 256.73 262.88 255.57 263.40 254.50C263.92 253.43 264.30 252.35 264.70 251.30C265.10 250.25 265.48 249.25 265.80 248.20C266.12 247.15 266.43 245.87 266.60 245.00C266.77 244.13 266.73 243.83 266.80 243.00C266.87 242.17 266.92 241.17 267.00 240.00C267.08 238.83 267.23 237.67 267.30 236.00C267.37 234.33 267.40 232.67 267.40 230.00C267.40 227.33 267.32 223.33 267.30 220.00C267.28 216.67 267.27 212.93 267.30 210.00C267.33 207.07 267.47 203.67 267.50 202.40Z" fill="#3274a1" stroke="#3a3a3a" stroke-width="1.0" stroke-linejoin="round"/>
<line x1="267.50" y1="253.40" x2="267.50" y2="277.70" stroke="#3f3f3f" stroke-width="0.9" />
<rect x="266.15" y="263.90" width="2.70" height="11.30" fill="#3f3f3f" />
<circle cx="267.50" cy="270.20" r="0.7" fill="#f4f4f4"/>
<path d="M339.20 203.80C339.40 205.02 339.98 208.72 340.40 211.10C340.82 213.48 341.25 215.75 341.70 218.10C342.15 220.45 342.68 222.85 343.10 225.20C343.52 227.55 343.87 229.87 344.20 232.20C344.53 234.53 344.90 237.07 345.10 239.20C345.30 241.33 345.17 243.68 345.40 245.00C345.63 246.32 345.95 246.40 346.50 247.10C347.05 247.80 347.72 248.50 348.70 249.20C349.68 249.90 351.08 250.60 352.40 251.30C353.72 252.00 355.28 252.70 356.60 253.40C357.92 254.10 359.00 254.62 360.30 255.50C361.60 256.38 363.33 257.63 364.40 258.70C365.47 259.77 366.15 260.75 366.70 261.90C367.25 263.05 367.80 264.55 367.70 265.60C367.60 266.65 366.88 267.42 366.10 268.20C365.32 268.98 364.40 269.60 363.00 270.30C361.60 271.00 359.47 271.70 357.70 272.40C355.93 273.10 353.98 273.80 352.40 274.50C350.82 275.20 349.43 275.90 348.20 276.60C346.97 277.30 345.88 278.00 345.00 278.70C344.12 279.40 343.60 280.08 342.90 280.80C342.20 281.52 341.42 282.08 340.80 283.00C340.18 283.92 339.47 285.75 339.20 286.30C338.93 285.75 338.22 283.92 337.60 283.00C336.98 282.08 336.20 281.52 335.50 280.80C334.80 280.08 334.28 279.40 333.40 278.70C332.52 278.00 331.43 277.30 330.20 276.60C328.97 275.90 327.58 275.20 326.00 274.50C324.42 273.80 322.47 273.10 320.70 272.40C318.93 271.70 316.80 271.00 315.40 270.30C314.00 269.60 313.08 268.98 312.30 268.20C311.52 267.42 310.80 266.65 310.70 265.60C310.60 264.55 311.15 263.05 311.70 261.90C312.25 260.75 312.93 259.77 314.00 258.70C315.07 257.63 316.80 256.38 318.10 255.50C319.40 254.62 320.48 254.10 321.80 253.40C323.12 252.70 324.68 252.00 326.00 251.30C327.32 250.60 328.72 249.90 329.70 249.20C330.68 248.50 331.35 247.80 331.90 247.10C332.45 246.40 332.77 246.32 333.00 245.00C333.23 243.68 333.10 241.33 333.30 239.20C333.50 237.07 333.87 234.53 334.20 232.20C334.53 229.87 334.88 227.55 335.30 225.20C335.72 222.85 336.25 220.45 336.70 218.10C337.15 215.75 337.58 213.48 338.00 211.10C338.42 208.72 339.00 205.02 339.20 203.80Z" fill="#e1812c" stroke="#3a3a3a" stroke-width="1.0" stroke-linejoin="round"/>
<line x1="339.20" y1="237.80" x2="339.20" y2="274.90" stroke="#3f3f3f" stroke-width="0.9" />
<rect x="337.85" y="254.80" width="2.70" height="15.00" fill="#3f3f3f" />
<circle cx="339.20" cy="264.20" r="0.7" fill="#f4f4f4"/>
<path d="M79.20 329.00C79.32 330.00 79.72 333.47 79.90 335.00C80.08 336.53 80.15 337.15 80.30 338.20C80.45 339.25 80.53 340.25 80.80 341.30C81.07 342.35 81.55 343.62 81.90 344.50C82.25 345.38 82.42 345.90 82.90 346.60C83.38 347.30 84.07 348.00 84.80 348.70C85.53 349.40 86.28 350.10 87.30 350.80C88.32 351.50 89.62 352.20 90.90 352.90C92.18 353.60 93.60 354.30 95.00 355.00C96.40 355.70 97.97 356.38 99.30 357.10C100.63 357.82 101.95 358.58 103.00 359.30C104.05 360.02 104.90 360.70 105.60 361.40C106.30 362.10 106.83 362.72 107.20 363.50C107.57 364.28 107.98 365.23 107.80 366.10C107.62 366.97 106.70 367.97 106.10 368.70C105.50 369.43 104.90 369.78 104.20 370.50C103.50 371.22 102.82 372.08 101.90 373.00C100.98 373.92 99.82 375.00 98.70 376.00C97.58 377.00 96.55 377.88 95.20 379.00C93.85 380.12 91.92 381.57 90.60 382.70C89.28 383.83 88.25 384.75 87.30 385.80C86.35 386.85 85.57 387.95 84.90 389.00C84.23 390.05 83.78 391.05 83.30 392.10C82.82 393.15 82.38 394.23 82.00 395.30C81.62 396.37 81.32 397.45 81.00 398.50C80.68 399.55 80.33 400.55 80.10 401.60C79.87 402.65 79.75 403.65 79.60 404.80C79.45 405.95 79.27 407.88 79.20 408.50C79.13 407.88 78.95 405.95 78.80 404.80C78.65 403.65 78.53 402.65 78.30 401.60C78.07 400.55 77.72 399.55 77.40 398.50C77.08 397.45 76.78 396.37 76.40 395.30C76.02 394.23 75.58 393.15 75.10 392.10C74.62 391.05 74.17 390.05 73.50 389.00C72.83 387.95 72.05 386.85 71.10 385.80C70.15 384.75 69.12 383.83 67.80 382.70C66.48 381.57 64.55 380.12 63.20 379.00C61.85 377.88 60.82 377.00 59.70 376.00C58.58 375.00 57.42 373.92 56.50 373.00C55.58 372.08 54.90 371.22 54.20 370.50C53.50 369.78 52.90 369.43 52.30 368.70C51.70 367.97 50.78 366.97 50.60 366.10C50.42 365.23 50.83 364.28 51.20 363.50C51.57 362.72 52.10 362.10 52.80 361.40C53.50 360.70 54.35 360.02 55.40 359.30C56.45 358.58 57.77 357.82 59.10 357.10C60.43 356.38 62.00 355.70 63.40 355.00C64.80 354.30 66.22 353.60 67.50 352.90C68.78 352.20 70.08 351.50 71.10 350.80C72.12 350.10 72.87 349.40 73.60 348.70C74.33 348.00 75.02 347.30 75.50 346.60C75.98 345.90 76.15 345.38 76.50 344.50C76.85 343.62 77.33 342.35 77.60 341.30C77.87 340.25 77.95 339.25 78.10 338.20C78.25 337.15 78.32 336.53 78.50 335.00C78.68 333.47 79.08 330.00 79.20 329.00Z" fill="#3274a1" stroke="#3a3a3a" stroke-width="1.0" stroke-linejoin="round"/>
<line x1="79.20" y1="341.60" x2="79.20" y2="398.00" stroke="#3f3f3f" stroke-width="0.9" />
<rect x="77.85" y="360.70" width="2.70" height="17.30" fill="#3f3f3f" />
<circle cx="79.20" cy="368.70" r="0.7" fill="#f4f4f4"/>
<path d="M151.00 323.80C151.17 325.02 151.75 329.23 152.00 331.10C152.25 332.97 152.25 333.82 152.50 335.00C152.75 336.18 153.10 337.15 153.50 338.20C153.90 339.25 154.28 340.25 154.90 341.30C155.52 342.35 156.42 343.62 157.20 344.50C157.98 345.38 158.65 345.90 159.60 346.60C160.55 347.30 161.73 348.00 162.90 348.70C164.07 349.40 165.28 350.10 166.60 350.80C167.92 351.50 169.48 352.20 170.80 352.90C172.12 353.60 173.47 354.30 174.50 355.00C175.53 355.70 176.37 356.22 177.00 357.10C177.63 357.98 177.98 359.23 178.30 360.30C178.62 361.37 178.77 362.50 178.90 363.50C179.03 364.50 179.23 365.47 179.10 366.30C178.97 367.13 178.62 367.80 178.10 368.50C177.58 369.20 177.10 369.72 176.00 370.50C174.90 371.28 172.93 372.37 171.50 373.20C170.07 374.03 168.62 374.75 167.40 375.50C166.18 376.25 165.17 376.98 164.20 377.70C163.23 378.42 162.40 379.10 161.60 379.80C160.80 380.50 160.08 381.20 159.40 381.90C158.72 382.60 158.13 383.30 157.50 384.00C156.87 384.70 156.13 385.40 155.60 386.10C155.07 386.80 154.73 387.50 154.30 388.20C153.87 388.90 153.38 389.60 153.00 390.30C152.62 391.00 152.33 391.25 152.00 392.40C151.67 393.55 151.17 396.40 151.00 397.20C150.83 396.40 150.33 393.55 150.00 392.40C149.67 391.25 149.38 391.00 149.00 390.30C148.62 389.60 148.13 388.90 147.70 388.20C147.27 387.50 146.93 386.80 146.40 386.10C145.87 385.40 145.13 384.70 144.50 384.00C143.87 383.30 143.28 382.60 142.60 381.90C141.92 381.20 141.20 380.50 140.40 379.80C139.60 379.10 138.77 378.42 137.80 377.70C136.83 376.98 135.82 376.25 134.60 375.50C133.38 374.75 131.93 374.03 130.50 373.20C129.07 372.37 127.10 371.28 126.00 370.50C124.90 369.72 124.42 369.20 123.90 368.50C123.38 367.80 123.03 367.13 122.90 366.30C122.77 365.47 122.97 364.50 123.10 363.50C123.23 362.50 123.38 361.37 123.70 360.30C124.02 359.23 124.37 357.98 125.00 357.10C125.63 356.22 126.47 355.70 127.50 355.00C128.53 354.30 129.88 353.60 131.20 352.90C132.52 352.20 134.08 351.50 135.40 350.80C136.72 350.10 137.93 349.40 139.10 348.70C140.27 348.00 141.45 347.30 142.40 346.60C143.35 345.90 144.02 345.38 144.80 344.50C145.58 343.62 146.48 342.35 147.10 341.30C147.72 340.25 148.10 339.25 148.50 338.20C148.90 337.15 149.25 336.18 149.50 335.00C149.75 333.82 149.75 332.97 150.00 331.10C150.25 329.23 150.83 325.02 151.00 323.80Z" fill="#e1812c" stroke="#3a3a3a" stroke-width="1.0" stroke-linejoin="round"/>
<line x1="151.00" y1="338.80" x2="151.00" y2="387.40" stroke="#3f3f3f" stroke-width="0.9" />
<rect x="149.65" y="357.10" width="2.70" height="15.60" fill="#3f3f3f" />
<circle cx="151.00" cy="365.60" r="0.7" fill="#f4f4f4"/>
<path d="M267.50 324.80C267.58 327.02 267.79 333.53 268.00 338.10C268.21 342.67 268.52 348.68 268.75 352.20C268.98 355.72 269.22 357.07 269.40 359.20C269.57 361.33 269.65 363.50 269.80 365.00C269.95 366.50 270.10 367.15 270.30 368.20C270.50 369.25 270.67 370.25 271.00 371.30C271.33 372.35 271.88 373.62 272.30 374.50C272.72 375.38 272.88 375.90 273.50 376.60C274.12 377.30 274.97 378.00 276.00 378.70C277.03 379.40 278.38 380.10 279.70 380.80C281.02 381.50 282.52 382.20 283.90 382.90C285.28 383.60 286.73 384.30 288.00 385.00C289.27 385.70 290.47 386.38 291.50 387.10C292.53 387.82 293.48 388.50 294.20 389.30C294.92 390.10 295.63 391.12 295.80 391.90C295.97 392.68 296.00 393.30 295.20 394.00C294.40 394.70 292.75 395.40 291.00 396.10C289.25 396.80 286.82 397.50 284.70 398.20C282.58 398.90 280.23 399.60 278.30 400.30C276.37 401.00 274.50 401.70 273.10 402.40C271.70 403.10 270.83 403.62 269.90 404.50C268.97 405.38 267.90 407.17 267.50 407.70C267.10 407.17 266.03 405.38 265.10 404.50C264.17 403.62 263.30 403.10 261.90 402.40C260.50 401.70 258.63 401.00 256.70 400.30C254.77 399.60 252.42 398.90 250.30 398.20C248.18 397.50 245.75 396.80 244.00 396.10C242.25 395.40 240.60 394.70 239.80 394.00C239.00 393.30 239.03 392.68 239.20 391.90C239.37 391.12 240.08 390.10 240.80 389.30C241.52 388.50 242.47 387.82 243.50 387.10C244.53 386.38 245.73 385.70 247.00 385.00C248.27 384.30 249.72 383.60 251.10 382.90C252.48 382.20 253.98 381.50 255.30 380.80C256.62 380.10 257.97 379.40 259.00 378.70C260.03 378.00 260.88 377.30 261.50 376.60C262.12 375.90 262.28 375.38 262.70 374.50C263.12 373.62 263.67 372.35 264.00 371.30C264.33 370.25 264.50 369.25 264.70 368.20C264.90 367.15 265.05 366.50 265.20 365.00C265.35 363.50 265.43 361.33 265.60 359.20C265.78 357.07 266.02 355.72 266.25 352.20C266.48 348.68 266.79 342.67 267.00 338.10C267.21 333.53 267.42 327.02 267.50 324.80Z" fill="#3274a1" stroke="#3a3a3a" stroke-width="1.0" stroke-linejoin="round"/>
<line x1="267.50" y1="369.10" x2="267.50" y2="400.80" stroke="#3f3f3f" stroke-width="0.9" />
<rect x="266.15" y="383.20" width="2.70" height="12.70" fill="#3f3f3f" />
<circle cx="267.50" cy="391.20" r="0.7" fill="#f4f4f4"/>
<path d="M339.20 323.40C339.28 324.68 339.55 328.65 339.70 331.10C339.85 333.55 339.85 335.77 340.10 338.10C340.35 340.43 340.77 343.28 341.20 345.10C341.63 346.92 342.18 347.82 342.70 349.00C343.22 350.18 343.85 351.03 344.30 352.20C344.75 353.37 345.13 354.70 345.40 356.00C345.67 357.30 345.65 358.75 345.90 360.00C346.15 361.25 346.45 362.33 346.90 363.50C347.35 364.67 348.02 366.02 348.60 367.00C349.18 367.98 349.62 368.62 350.40 369.40C351.18 370.18 352.13 370.93 353.30 371.70C354.47 372.47 356.03 373.22 357.40 374.00C358.77 374.78 360.33 375.62 361.50 376.40C362.67 377.18 363.52 377.83 364.40 378.70C365.28 379.57 366.27 380.52 366.80 381.60C367.33 382.68 367.70 384.12 367.60 385.20C367.50 386.28 367.12 387.23 366.20 388.10C365.28 388.97 363.67 389.62 362.10 390.40C360.53 391.18 358.45 392.02 356.80 392.80C355.15 393.58 353.65 394.33 352.20 395.10C350.75 395.87 349.28 396.62 348.10 397.40C346.92 398.18 345.98 399.02 345.10 399.80C344.22 400.58 343.48 401.32 342.80 402.10C342.12 402.88 341.60 403.52 341.00 404.50C340.40 405.48 339.50 407.42 339.20 408.00C338.90 407.42 338.00 405.48 337.40 404.50C336.80 403.52 336.28 402.88 335.60 402.10C334.92 401.32 334.18 400.58 333.30 399.80C332.42 399.02 331.48 398.18 330.30 397.40C329.12 396.62 327.65 395.87 326.20 395.10C324.75 394.33 323.25 393.58 321.60 392.80C319.95 392.02 317.87 391.18 316.30 390.40C314.73 389.62 313.12 388.97 312.20 388.10C311.28 387.23 310.90 386.28 310.80 385.20C310.70 384.12 311.07 382.68 311.60 381.60C312.13 380.52 313.12 379.57 314.00 378.70C314.88 377.83 315.73 377.18 316.90 376.40C318.07 375.62 319.63 374.78 321.00 374.00C322.37 373.22 323.93 372.47 325.10 371.70C326.27 370.93 327.22 370.18 328.00 369.40C328.78 368.62 329.22 367.98 329.80 367.00C330.38 366.02 331.05 364.67 331.50 363.50C331.95 362.33 332.25 361.25 332.50 360.00C332.75 358.75 332.73 357.30 333.00 356.00C333.27 354.70 333.65 353.37 334.10 352.20C334.55 351.03 335.18 350.18 335.70 349.00C336.22 347.82 336.77 346.92 337.20 345.10C337.63 343.28 338.05 340.43 338.30 338.10C338.55 335.77 338.55 333.55 338.70 331.10C338.85 328.65 339.12 324.68 339.20 323.40Z" fill="#e1812c" stroke="#3a3a3a" stroke-width="1.0" stroke-linejoin="round"/>
<line x1="339.20" y1="349.40" x2="339.20" y2="397.30" stroke="#3f3f3f" stroke-width="0.9" />
<rect x="337.85" y="371.00" width="2.70" height="19.70" fill="#3f3f3f" />
<circle cx="339.20" cy="384.20" r="0.7" fill="#f4f4f4"/>
<path d="M79.20 198.70V196.80H151.00V198.70" fill="none" stroke="#4a4a4a" stroke-width="1.1"/>
<path d="M109.54 192.20L109.93 189.83A0.58 0.58 0 0 0 108.77 189.83L109.16 192.20ZM109.16 192.20L108.77 194.57A0.58 0.58 0 0 0 109.93 194.57L109.54 192.20ZM109.44 192.36L111.69 191.51A0.58 0.58 0 0 0 111.12 190.51L109.26 192.04ZM109.44 192.04L107.58 190.51A0.58 0.58 0 0 0 107.01 191.51L109.26 192.36ZM109.26 192.04L107.01 192.89A0.58 0.58 0 0 0 107.58 193.89L109.44 192.36ZM109.26 192.36L111.12 193.89A0.58 0.58 0 0 0 111.69 192.89L109.44 192.04Z" fill="#1a1a1a"/>
<circle cx="109.35" cy="192.20" r="0.58" fill="#1a1a1a"/>
<path d="M115.59 192.20L115.98 189.83A0.58 0.58 0 0 0 114.82 189.83L115.21 192.20ZM115.21 192.20L114.82 194.57A0.58 0.58 0 0 0 115.98 194.57L115.59 192.20ZM115.49 192.36L117.74 191.51A0.58 0.58 0 0 0 117.17 190.51L115.31 192.04ZM115.49 192.04L113.63 190.51A0.58 0.58 0 0 0 113.06 191.51L115.31 192.36ZM115.31 192.04L113.06 192.89A0.58 0.58 0 0 0 113.63 193.89L115.49 192.36ZM115.31 192.36L117.17 193.89A0.58 0.58 0 0 0 117.74 192.89L115.49 192.04Z" fill="#1a1a1a"/>
<circle cx="115.40" cy="192.20" r="0.58" fill="#1a1a1a"/>
<path d="M121.64 192.20L122.03 189.83A0.58 0.58 0 0 0 120.87 189.83L121.26 192.20ZM121.26 192.20L120.87 194.57A0.58 0.58 0 0 0 122.03 194.57L121.64 192.20ZM121.54 192.36L123.79 191.51A0.58 0.58 0 0 0 123.22 190.51L121.36 192.04ZM121.54 192.04L119.68 190.51A0.58 0.58 0 0 0 119.11 191.51L121.36 192.36ZM121.36 192.04L119.11 192.89A0.58 0.58 0 0 0 119.68 193.89L121.54 192.36ZM121.36 192.36L123.22 193.89A0.58 0.58 0 0 0 123.79 192.89L121.54 192.04Z" fill="#1a1a1a"/>
<circle cx="121.45" cy="192.20" r="0.58" fill="#1a1a1a"/>
<path d="M267.50 198.80V196.90H339.20V198.80" fill="none" stroke="#4a4a4a" stroke-width="1.1"/>
<path d="M298.14 192.60L298.53 190.23A0.58 0.58 0 0 0 297.37 190.23L297.76 192.60ZM297.76 192.60L297.37 194.97A0.58 0.58 0 0 0 298.53 194.97L298.14 192.60ZM298.04 192.76L300.29 191.91A0.58 0.58 0 0 0 299.72 190.91L297.86 192.44ZM298.04 192.44L296.18 190.91A0.58 0.58 0 0 0 295.61 191.91L297.86 192.76ZM297.86 192.44L295.61 193.29A0.58 0.58 0 0 0 296.18 194.29L298.04 192.76ZM297.86 192.76L299.72 194.29A0.58 0.58 0 0 0 300.29 193.29L298.04 192.44Z" fill="#1a1a1a"/>
<circle cx="297.95" cy="192.60" r="0.58" fill="#1a1a1a"/>
<path d="M304.19 192.60L304.58 190.23A0.58 0.58 0 0 0 303.42 190.23L303.81 192.60ZM303.81 192.60L303.42 194.97A0.58 0.58 0 0 0 304.58 194.97L304.19 192.60ZM304.09 192.76L306.34 191.91A0.58 0.58 0 0 0 305.77 190.91L303.91 192.44ZM304.09 192.44L302.23 190.91A0.58 0.58 0 0 0 301.66 191.91L303.91 192.76ZM303.91 192.44L301.66 193.29A0.58 0.58 0 0 0 302.23 194.29L304.09 192.76ZM303.91 192.76L305.77 194.29A0.58 0.58 0 0 0 306.34 193.29L304.09 192.44Z" fill="#1a1a1a"/>
<circle cx="304.00" cy="192.60" r="0.58" fill="#1a1a1a"/>
<path d="M310.24 192.60L310.63 190.23A0.58 0.58 0 0 0 309.47 190.23L309.86 192.60ZM309.86 192.60L309.47 194.97A0.58 0.58 0 0 0 310.63 194.97L310.24 192.60ZM310.14 192.76L312.39 191.91A0.58 0.58 0 0 0 311.82 190.91L309.96 192.44ZM310.14 192.44L308.28 190.91A0.58 0.58 0 0 0 307.71 191.91L309.96 192.76ZM309.96 192.44L307.71 193.29A0.58 0.58 0 0 0 308.28 194.29L310.14 192.76ZM309.96 192.76L311.82 194.29A0.58 0.58 0 0 0 312.39 193.29L310.14 192.44Z" fill="#1a1a1a"/>
<circle cx="310.05" cy="192.60" r="0.58" fill="#1a1a1a"/>
<path d="M79.20 321.10V319.40H151.00V321.10" fill="none" stroke="#4a4a4a" stroke-width="1.1"/>
<path d="M110.34 314.60L110.73 312.23A0.58 0.58 0 0 0 109.57 312.23L109.96 314.60ZM109.96 314.60L109.57 316.97A0.58 0.58 0 0 0 110.73 316.97L110.34 314.60ZM110.24 314.76L112.49 313.91A0.58 0.58 0 0 0 111.92 312.91L110.06 314.44ZM110.24 314.44L108.38 312.91A0.58 0.58 0 0 0 107.81 313.91L110.06 314.76ZM110.06 314.44L107.81 315.29A0.58 0.58 0 0 0 108.38 316.29L110.24 314.76ZM110.06 314.76L111.92 316.29A0.58 0.58 0 0 0 112.49 315.29L110.24 314.44Z" fill="#1a1a1a"/>
<circle cx="110.15" cy="314.60" r="0.58" fill="#1a1a1a"/>
<path d="M116.39 314.60L116.78 312.23A0.58 0.58 0 0 0 115.62 312.23L116.01 314.60ZM116.01 314.60L115.62 316.97A0.58 0.58 0 0 0 116.78 316.97L116.39 314.60ZM116.29 314.76L118.54 313.91A0.58 0.58 0 0 0 117.97 312.91L116.11 314.44ZM116.29 314.44L114.43 312.91A0.58 0.58 0 0 0 113.86 313.91L116.11 314.76ZM116.11 314.44L113.86 315.29A0.58 0.58 0 0 0 114.43 316.29L116.29 314.76ZM116.11 314.76L117.97 316.29A0.58 0.58 0 0 0 118.54 315.29L116.29 314.44Z" fill="#1a1a1a"/>
<circle cx="116.20" cy="314.60" r="0.58" fill="#1a1a1a"/>
<path d="M122.44 314.60L122.83 312.23A0.58 0.58 0 0 0 121.67 312.23L122.06 314.60ZM122.06 314.60L121.67 316.97A0.58 0.58 0 0 0 122.83 316.97L122.44 314.60ZM122.34 314.76L124.59 313.91A0.58 0.58 0 0 0 124.02 312.91L122.16 314.44ZM122.34 314.44L120.48 312.91A0.58 0.58 0 0 0 119.91 313.91L122.16 314.76ZM122.16 314.44L119.91 315.29A0.58 0.58 0 0 0 120.48 316.29L122.34 314.76ZM122.16 314.76L124.02 316.29A0.58 0.58 0 0 0 124.59 315.29L122.34 314.44Z" fill="#1a1a1a"/>
<circle cx="122.25" cy="314.60" r="0.58" fill="#1a1a1a"/>
<path d="M267.50 321.60V319.90H339.20V321.60" fill="none" stroke="#4a4a4a" stroke-width="1.1"/>
<path d="M298.24 315.60L298.63 313.23A0.58 0.58 0 0 0 297.47 313.23L297.86 315.60ZM297.86 315.60L297.47 317.97A0.58 0.58 0 0 0 298.63 317.97L298.24 315.60ZM298.14 315.76L300.39 314.91A0.58 0.58 0 0 0 299.82 313.91L297.96 315.44ZM298.14 315.44L296.28 313.91A0.58 0.58 0 0 0 295.71 314.91L297.96 315.76ZM297.96 315.44L295.71 316.29A0.58 0.58 0 0 0 296.28 317.29L298.14 315.76ZM297.96 315.76L299.82 317.29A0.58 0.58 0 0 0 300.39 316.29L298.14 315.44Z" fill="#1a1a1a"/>
<circle cx="298.05" cy="315.60" r="0.58" fill="#1a1a1a"/>
<path d="M304.29 315.60L304.68 313.23A0.58 0.58 0 0 0 303.52 313.23L303.91 315.60ZM303.91 315.60L303.52 317.97A0.58 0.58 0 0 0 304.68 317.97L304.29 315.60ZM304.19 315.76L306.44 314.91A0.58 0.58 0 0 0 305.87 313.91L304.01 315.44ZM304.19 315.44L302.33 313.91A0.58 0.58 0 0 0 301.76 314.91L304.01 315.76ZM304.01 315.44L301.76 316.29A0.58 0.58 0 0 0 302.33 317.29L304.19 315.76ZM304.01 315.76L305.87 317.29A0.58 0.58 0 0 0 306.44 316.29L304.19 315.44Z" fill="#1a1a1a"/>
<circle cx="304.10" cy="315.60" r="0.58" fill="#1a1a1a"/>
<path d="M310.34 315.60L310.73 313.23A0.58 0.58 0 0 0 309.57 313.23L309.96 315.60ZM309.96 315.60L309.57 317.97A0.58 0.58 0 0 0 310.73 317.97L310.34 315.60ZM310.24 315.76L312.49 314.91A0.58 0.58 0 0 0 311.92 313.91L310.06 315.44ZM310.24 315.44L308.38 313.91A0.58 0.58 0 0 0 307.81 314.91L310.06 315.76ZM310.06 315.44L307.81 316.29A0.58 0.58 0 0 0 308.38 317.29L310.24 315.76ZM310.06 315.76L311.92 317.29A0.58 0.58 0 0 0 312.49 316.29L310.24 315.44Z" fill="#1a1a1a"/>
<circle cx="310.15" cy="315.60" r="0.58" fill="#1a1a1a"/>
<path d="M422.50 262.2V413.60H681.9" fill="none" stroke="#1c1c1c" stroke-width="1.0"/>
<line x1="418.50" y1="408.50" x2="422.50" y2="408.50" stroke="#1c1c1c" stroke-width="1.0" />
<text x="416.00" y="411.15" font-size="7.69" textLength="16.14" lengthAdjust="spacingAndGlyphs" text-anchor="end" fill="#262626" stroke="#262626" stroke-width="0.1">0.00</text>
<line x1="418.50" y1="383.14" x2="422.50" y2="383.14" stroke="#1c1c1c" stroke-width="1.0" />
<text x="416.00" y="385.79" font-size="7.69" textLength="16.14" lengthAdjust="spacingAndGlyphs" text-anchor="end" fill="#262626" stroke="#262626" stroke-width="0.1">0.05</text>
<line x1="418.50" y1="357.78" x2="422.50" y2="357.78" stroke="#1c1c1c" stroke-width="1.0" />
<text x="416.00" y="360.43" font-size="7.69" textLength="16.14" lengthAdjust="spacingAndGlyphs" text-anchor="end" fill="#262626" stroke="#262626" stroke-width="0.1">0.10</text>
<line x1="418.50" y1="332.42" x2="422.50" y2="332.42" stroke="#1c1c1c" stroke-width="1.0" />
<text x="416.00" y="335.07" font-size="7.69" textLength="16.14" lengthAdjust="spacingAndGlyphs" text-anchor="end" fill="#262626" stroke="#262626" stroke-width="0.1">0.15</text>
<line x1="418.50" y1="307.06" x2="422.50" y2="307.06" stroke="#1c1c1c" stroke-width="1.0" />
<text x="416.00" y="309.71" font-size="7.69" textLength="16.14" lengthAdjust="spacingAndGlyphs" text-anchor="end" fill="#262626" stroke="#262626" stroke-width="0.1">0.20</text>
<line x1="418.50" y1="281.70" x2="422.50" y2="281.70" stroke="#1c1c1c" stroke-width="1.0" />
<text x="416.00" y="284.35" font-size="7.69" textLength="16.14" lengthAdjust="spacingAndGlyphs" text-anchor="end" fill="#262626" stroke="#262626" stroke-width="0.1">0.25</text>
<text x="394.00" y="338.60" font-size="10.18" textLength="89.62" lengthAdjust="spacingAndGlyphs" text-anchor="middle" fill="#262626" stroke="#262626" stroke-width="0.1" transform="rotate(-90 394.00 338.60)">Harmonic strength</text>
<line x1="475.50" y1="413.60" x2="475.50" y2="417.40" stroke="#1c1c1c" stroke-width="1.0" />
<text x="476.30" y="426.90" font-size="8.48" textLength="65.92" lengthAdjust="spacingAndGlyphs" text-anchor="middle" fill="#262626" stroke="#262626" stroke-width="0.1">Anteroretrocollis</text>
<line x1="551.80" y1="413.60" x2="551.80" y2="417.40" stroke="#1c1c1c" stroke-width="1.0" />
<text x="552.60" y="426.90" font-size="8.48" textLength="37.20" lengthAdjust="spacingAndGlyphs" text-anchor="middle" fill="#262626" stroke="#262626" stroke-width="0.1">Torticollis</text>
<line x1="628.10" y1="413.60" x2="628.10" y2="417.40" stroke="#1c1c1c" stroke-width="1.0" />
<text x="628.90" y="426.90" font-size="8.48" textLength="45.55" lengthAdjust="spacingAndGlyphs" text-anchor="middle" fill="#262626" stroke="#262626" stroke-width="0.1">Laterocollis</text>
<line x1="460.50" y1="354.50" x2="460.50" y2="378.60" stroke="#3f3f3f" stroke-width="1.1" />
<line x1="460.50" y1="394.90" x2="460.50" y2="404.00" stroke="#3f3f3f" stroke-width="1.1" />
<line x1="452.70" y1="354.50" x2="468.30" y2="354.50" stroke="#3f3f3f" stroke-width="1.1" />
<line x1="452.70" y1="404.00" x2="468.30" y2="404.00" stroke="#3f3f3f" stroke-width="1.1" />
<rect x="445.90" y="378.60" width="29.10" height="16.30" fill="#3274a1" stroke="#3f3f3f" stroke-width="1.1" />
<line x1="445.90" y1="389.40" x2="475.00" y2="389.40" stroke="#3f3f3f" stroke-width="1.1" />
<path d="M460.50 326.65L461.75 328.40L460.50 330.15L459.25 328.40Z" fill="#333"/>
<path d="M460.50 328.55L461.75 330.30L460.50 332.05L459.25 330.30Z" fill="#333"/>
<path d="M460.50 330.45L461.75 332.20L460.50 333.95L459.25 332.20Z" fill="#333"/>
<path d="M460.50 335.15L461.75 336.90L460.50 338.65L459.25 336.90Z" fill="#333"/>
<path d="M460.50 337.05L461.75 338.80L460.50 340.55L459.25 338.80Z" fill="#333"/>
<path d="M460.50 338.95L461.75 340.70L460.50 342.45L459.25 340.70Z" fill="#333"/>
<path d="M460.50 341.95L461.75 343.70L460.50 345.45L459.25 343.70Z" fill="#333"/>
<path d="M460.50 343.85L461.75 345.60L460.50 347.35L459.25 345.60Z" fill="#333"/>
<path d="M460.50 345.75L461.75 347.50L460.50 349.25L459.25 347.50Z" fill="#333"/>
<path d="M460.50 350.85L461.75 352.60L460.50 354.35L459.25 352.60Z" fill="#333"/>
<line x1="491.20" y1="328.20" x2="491.20" y2="359.50" stroke="#3f3f3f" stroke-width="1.1" />
<line x1="491.20" y1="382.20" x2="491.20" y2="394.60" stroke="#3f3f3f" stroke-width="1.1" />
<line x1="483.50" y1="328.20" x2="498.90" y2="328.20" stroke="#3f3f3f" stroke-width="1.1" />
<line x1="483.50" y1="394.60" x2="498.90" y2="394.60" stroke="#3f3f3f" stroke-width="1.1" />
<rect x="476.00" y="359.50" width="29.80" height="22.70" fill="#e1812c" stroke="#3f3f3f" stroke-width="1.1" />
<line x1="476.00" y1="372.50" x2="505.80" y2="372.50" stroke="#3f3f3f" stroke-width="1.1" />
<path d="M491.20 279.95L492.45 281.70L491.20 283.45L489.95 281.70Z" fill="#333"/>
<path d="M491.20 298.05L492.45 299.80L491.20 301.55L489.95 299.80Z" fill="#333"/>
<path d="M491.20 299.85L492.45 301.60L491.20 303.35L489.95 301.60Z" fill="#333"/>
<path d="M491.20 302.45L492.45 304.20L491.20 305.95L489.95 304.20Z" fill="#333"/>
<path d="M491.20 313.05L492.45 314.80L491.20 316.55L489.95 314.80Z" fill="#333"/>
<line x1="536.70" y1="360.20" x2="536.70" y2="380.40" stroke="#3f3f3f" stroke-width="1.1" />
<line x1="536.70" y1="394.40" x2="536.70" y2="403.10" stroke="#3f3f3f" stroke-width="1.1" />
<line x1="529.10" y1="360.20" x2="544.30" y2="360.20" stroke="#3f3f3f" stroke-width="1.1" />
<line x1="529.10" y1="403.10" x2="544.30" y2="403.10" stroke="#3f3f3f" stroke-width="1.1" />
<rect x="521.90" y="380.40" width="29.40" height="14.00" fill="#3274a1" stroke="#3f3f3f" stroke-width="1.1" />
<line x1="521.90" y1="388.60" x2="551.30" y2="388.60" stroke="#3f3f3f" stroke-width="1.1" />
<path d="M536.70 280.45L537.95 282.20L536.70 283.95L535.45 282.20Z" fill="#333"/>
<path d="M536.70 333.65L537.95 335.40L536.70 337.15L535.45 335.40Z" fill="#333"/>
<path d="M536.70 343.45L537.95 345.20L536.70 346.95L535.45 345.20Z" fill="#333"/>
<path d="M536.70 345.45L537.95 347.20L536.70 348.95L535.45 347.20Z" fill="#333"/>
<path d="M536.70 347.45L537.95 349.20L536.70 350.95L535.45 349.20Z" fill="#333"/>
<path d="M536.70 349.45L537.95 351.20L536.70 352.95L535.45 351.20Z" fill="#333"/>
<path d="M536.70 351.55L537.95 353.30L536.70 355.05L535.45 353.30Z" fill="#333"/>
<path d="M536.70 356.25L537.95 358.00L536.70 359.75L535.45 358.00Z" fill="#333"/>
<line x1="567.40" y1="323.50" x2="567.40" y2="359.30" stroke="#3f3f3f" stroke-width="1.1" />
<line x1="567.40" y1="385.00" x2="567.40" y2="401.20" stroke="#3f3f3f" stroke-width="1.1" />
<line x1="559.80" y1="323.50" x2="575.00" y2="323.50" stroke="#3f3f3f" stroke-width="1.1" />
<line x1="559.80" y1="401.20" x2="575.00" y2="401.20" stroke="#3f3f3f" stroke-width="1.1" />
<rect x="552.80" y="359.30" width="28.90" height="25.70" fill="#e1812c" stroke="#3f3f3f" stroke-width="1.1" />
<line x1="552.80" y1="372.00" x2="581.70" y2="372.00" stroke="#3f3f3f" stroke-width="1.1" />
<path d="M567.40 291.35L568.65 293.10L567.40 294.85L566.15 293.10Z" fill="#333"/>
<path d="M567.40 309.45L568.65 311.20L567.40 312.95L566.15 311.20Z" fill="#333"/>
<path d="M567.40 312.95L568.65 314.70L567.40 316.45L566.15 314.70Z" fill="#333"/>
<line x1="612.90" y1="360.20" x2="612.90" y2="380.80" stroke="#3f3f3f" stroke-width="1.1" />
<line x1="612.90" y1="394.40" x2="612.90" y2="403.50" stroke="#3f3f3f" stroke-width="1.1" />
<line x1="605.30" y1="360.20" x2="620.50" y2="360.20" stroke="#3f3f3f" stroke-width="1.1" />
<line x1="605.30" y1="403.50" x2="620.50" y2="403.50" stroke="#3f3f3f" stroke-width="1.1" />
<rect x="598.20" y="380.80" width="29.40" height="13.60" fill="#3274a1" stroke="#3f3f3f" stroke-width="1.1" />
<line x1="598.20" y1="388.30" x2="627.60" y2="388.30" stroke="#3f3f3f" stroke-width="1.1" />
<path d="M612.90 307.55L614.15 309.30L612.90 311.05L611.65 309.30Z" fill="#333"/>
<path d="M612.90 316.75L614.15 318.50L612.90 320.25L611.65 318.50Z" fill="#333"/>
<path d="M612.90 339.35L614.15 341.10L612.90 342.85L611.65 341.10Z" fill="#333"/>
<path d="M612.90 345.75L614.15 347.50L612.90 349.25L611.65 347.50Z" fill="#333"/>
<path d="M612.90 347.85L614.15 349.60L612.90 351.35L611.65 349.60Z" fill="#333"/>
<path d="M612.90 350.05L614.15 351.80L612.90 353.55L611.65 351.80Z" fill="#333"/>
<path d="M612.90 352.25L614.15 354.00L612.90 355.75L611.65 354.00Z" fill="#333"/>
<path d="M612.90 354.85L614.15 356.60L612.90 358.35L611.65 356.60Z" fill="#333"/>
<line x1="643.30" y1="324.70" x2="643.30" y2="357.00" stroke="#3f3f3f" stroke-width="1.1" />
<line x1="643.30" y1="384.60" x2="643.30" y2="402.40" stroke="#3f3f3f" stroke-width="1.1" />
<line x1="635.70" y1="324.70" x2="650.90" y2="324.70" stroke="#3f3f3f" stroke-width="1.1" />
<line x1="635.70" y1="402.40" x2="650.90" y2="402.40" stroke="#3f3f3f" stroke-width="1.1" />
<rect x="628.60" y="357.00" width="29.20" height="27.60" fill="#e1812c" stroke="#3f3f3f" stroke-width="1.1" />
<line x1="628.60" y1="370.50" x2="657.80" y2="370.50" stroke="#3f3f3f" stroke-width="1.1" />
<path d="M643.30 306.75L644.55 308.50L643.30 310.25L642.05 308.50Z" fill="#333"/>
<path d="M460.50 278.60V276.30H491.20V278.60" fill="none" stroke="#4a4a4a" stroke-width="1.1"/>
<path d="M468.50 271.70L468.90 269.20A0.61 0.61 0 0 0 467.69 269.20L468.10 271.70ZM468.10 271.70L467.69 274.19A0.61 0.61 0 0 0 468.90 274.19L468.50 271.70ZM468.40 271.87L470.76 270.98A0.61 0.61 0 0 0 470.16 269.93L468.20 271.53ZM468.40 271.53L466.44 269.93A0.61 0.61 0 0 0 465.84 270.98L468.20 271.87ZM468.20 271.53L465.84 272.42A0.61 0.61 0 0 0 466.44 273.47L468.40 271.87ZM468.20 271.87L470.16 273.47A0.61 0.61 0 0 0 470.76 272.42L468.40 271.53Z" fill="#1a1a1a"/>
<circle cx="468.30" cy="271.70" r="0.61" fill="#1a1a1a"/>
<path d="M475.10 271.70L475.50 269.20A0.61 0.61 0 0 0 474.29 269.20L474.70 271.70ZM474.70 271.70L474.29 274.19A0.61 0.61 0 0 0 475.50 274.19L475.10 271.70ZM475.00 271.87L477.36 270.98A0.61 0.61 0 0 0 476.76 269.93L474.80 271.53ZM475.00 271.53L473.04 269.93A0.61 0.61 0 0 0 472.44 270.98L474.80 271.87ZM474.80 271.53L472.44 272.42A0.61 0.61 0 0 0 473.04 273.47L475.00 271.87ZM474.80 271.87L476.76 273.47A0.61 0.61 0 0 0 477.36 272.42L475.00 271.53Z" fill="#1a1a1a"/>
<circle cx="474.90" cy="271.70" r="0.61" fill="#1a1a1a"/>
<path d="M481.70 271.70L482.10 269.20A0.61 0.61 0 0 0 480.89 269.20L481.30 271.70ZM481.30 271.70L480.89 274.19A0.61 0.61 0 0 0 482.10 274.19L481.70 271.70ZM481.60 271.87L483.96 270.98A0.61 0.61 0 0 0 483.36 269.93L481.40 271.53ZM481.60 271.53L479.64 269.93A0.61 0.61 0 0 0 479.04 270.98L481.40 271.87ZM481.40 271.53L479.04 272.42A0.61 0.61 0 0 0 479.64 273.47L481.60 271.87ZM481.40 271.87L483.36 273.47A0.61 0.61 0 0 0 483.96 272.42L481.60 271.53Z" fill="#1a1a1a"/>
<circle cx="481.50" cy="271.70" r="0.61" fill="#1a1a1a"/>
<path d="M536.70 276.70V274.40H567.40V276.70" fill="none" stroke="#4a4a4a" stroke-width="1.1"/>
<path d="M546.50 269.90L546.90 267.40A0.61 0.61 0 0 0 545.69 267.40L546.10 269.90ZM546.10 269.90L545.69 272.39A0.61 0.61 0 0 0 546.90 272.39L546.50 269.90ZM546.40 270.07L548.76 269.18A0.61 0.61 0 0 0 548.16 268.13L546.20 269.73ZM546.40 269.73L544.44 268.13A0.61 0.61 0 0 0 543.84 269.18L546.20 270.07ZM546.20 269.73L543.84 270.62A0.61 0.61 0 0 0 544.44 271.67L546.40 270.07ZM546.20 270.07L548.16 271.67A0.61 0.61 0 0 0 548.76 270.62L546.40 269.73Z" fill="#1a1a1a"/>
<circle cx="546.30" cy="269.90" r="0.61" fill="#1a1a1a"/>
<path d="M553.10 269.90L553.50 267.40A0.61 0.61 0 0 0 552.29 267.40L552.70 269.90ZM552.70 269.90L552.29 272.39A0.61 0.61 0 0 0 553.50 272.39L553.10 269.90ZM553.00 270.07L555.36 269.18A0.61 0.61 0 0 0 554.76 268.13L552.80 269.73ZM553.00 269.73L551.04 268.13A0.61 0.61 0 0 0 550.44 269.18L552.80 270.07ZM552.80 269.73L550.44 270.62A0.61 0.61 0 0 0 551.04 271.67L553.00 270.07ZM552.80 270.07L554.76 271.67A0.61 0.61 0 0 0 555.36 270.62L553.00 269.73Z" fill="#1a1a1a"/>
<circle cx="552.90" cy="269.90" r="0.61" fill="#1a1a1a"/>
<path d="M559.70 269.90L560.11 267.40A0.61 0.61 0 0 0 558.89 267.40L559.30 269.90ZM559.30 269.90L558.89 272.39A0.61 0.61 0 0 0 560.11 272.39L559.70 269.90ZM559.60 270.07L561.96 269.18A0.61 0.61 0 0 0 561.36 268.13L559.40 269.73ZM559.60 269.73L557.64 268.13A0.61 0.61 0 0 0 557.04 269.18L559.40 270.07ZM559.40 269.73L557.04 270.62A0.61 0.61 0 0 0 557.64 271.67L559.60 270.07ZM559.40 270.07L561.36 271.67A0.61 0.61 0 0 0 561.96 270.62L559.60 269.73Z" fill="#1a1a1a"/>
<circle cx="559.50" cy="269.90" r="0.61" fill="#1a1a1a"/>
<path d="M612.90 301.10V298.80H643.30V301.10" fill="none" stroke="#4a4a4a" stroke-width="1.1"/>
<path d="M622.50 293.90L622.90 291.40A0.61 0.61 0 0 0 621.69 291.40L622.10 293.90ZM622.10 293.90L621.69 296.39A0.61 0.61 0 0 0 622.90 296.39L622.50 293.90ZM622.40 294.07L624.76 293.18A0.61 0.61 0 0 0 624.16 292.13L622.20 293.73ZM622.40 293.73L620.44 292.13A0.61 0.61 0 0 0 619.84 293.18L622.20 294.07ZM622.20 293.73L619.84 294.62A0.61 0.61 0 0 0 620.44 295.67L622.40 294.07ZM622.20 294.07L624.16 295.67A0.61 0.61 0 0 0 624.76 294.62L622.40 293.73Z" fill="#1a1a1a"/>
<circle cx="622.30" cy="293.90" r="0.61" fill="#1a1a1a"/>
<path d="M629.10 293.90L629.50 291.40A0.61 0.61 0 0 0 628.29 291.40L628.70 293.90ZM628.70 293.90L628.29 296.39A0.61 0.61 0 0 0 629.50 296.39L629.10 293.90ZM629.00 294.07L631.36 293.18A0.61 0.61 0 0 0 630.76 292.13L628.80 293.73ZM629.00 293.73L627.04 292.13A0.61 0.61 0 0 0 626.44 293.18L628.80 294.07ZM628.80 293.73L626.44 294.62A0.61 0.61 0 0 0 627.04 295.67L629.00 294.07ZM628.80 294.07L630.76 295.67A0.61 0.61 0 0 0 631.36 294.62L629.00 293.73Z" fill="#1a1a1a"/>
<circle cx="628.90" cy="293.90" r="0.61" fill="#1a1a1a"/>
<path d="M635.70 293.90L636.11 291.40A0.61 0.61 0 0 0 634.89 291.40L635.30 293.90ZM635.30 293.90L634.89 296.39A0.61 0.61 0 0 0 636.11 296.39L635.70 293.90ZM635.60 294.07L637.96 293.18A0.61 0.61 0 0 0 637.36 292.13L635.40 293.73ZM635.60 293.73L633.64 292.13A0.61 0.61 0 0 0 633.04 293.18L635.40 294.07ZM635.40 293.73L633.04 294.62A0.61 0.61 0 0 0 633.64 295.67L635.60 294.07ZM635.40 294.07L637.36 295.67A0.61 0.61 0 0 0 637.96 294.62L635.60 293.73Z" fill="#1a1a1a"/>
<circle cx="635.50" cy="293.90" r="0.61" fill="#1a1a1a"/>
<rect x="599.30" y="262.60" width="17.50" height="5.60" fill="#3274a1" stroke="#3f3f3f" stroke-width="0.9" />
<rect x="599.30" y="275.40" width="17.50" height="5.60" fill="#e1812c" stroke="#3f3f3f" stroke-width="0.9" />
<text x="623.60" y="268.80" font-size="11.13" textLength="42.36" lengthAdjust="spacingAndGlyphs" fill="#3274a1" stroke="#3274a1" stroke-width="0.1">Cervical</text>
<text x="623.60" y="281.50" font-size="11.13" textLength="62.89" lengthAdjust="spacingAndGlyphs" fill="#e1812c" stroke="#e1812c" stroke-width="0.1">Generalised</text>
</svg>
</body></html>
